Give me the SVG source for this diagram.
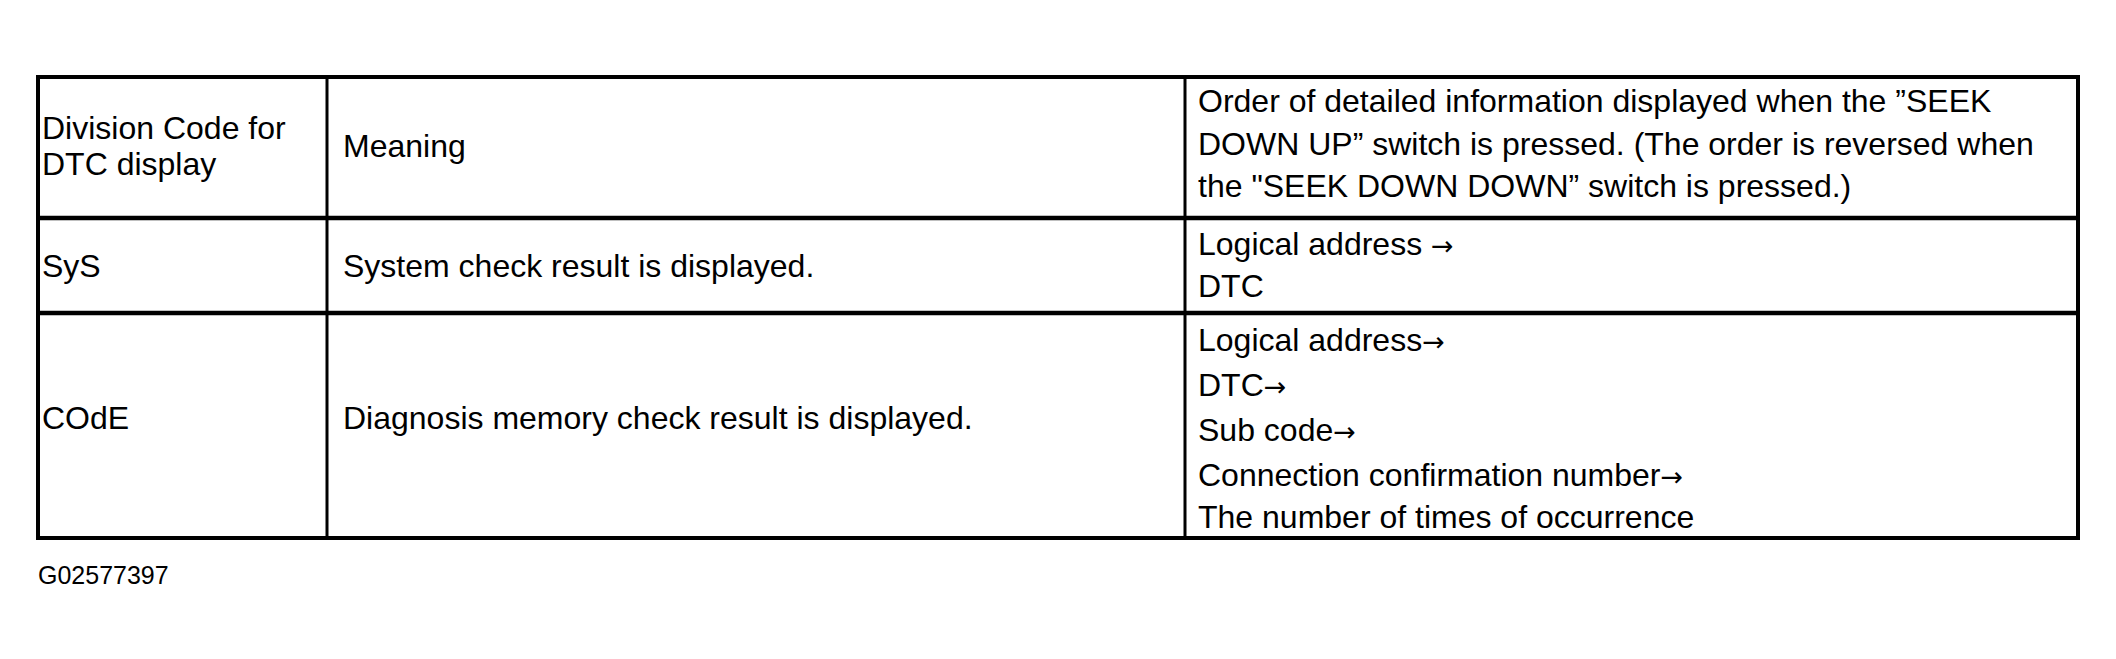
<svg xmlns="http://www.w3.org/2000/svg" width="2116" height="659" viewBox="0 0 2116 659">
<style>
  .t { font-family: "Liberation Sans", Arial, Helvetica, sans-serif; font-size: 32px; fill: #000; }
  .arr { font-family: "DejaVu Sans", sans-serif; font-size: 27px; }
  .fig { font-family: "Liberation Sans", Arial, Helvetica, sans-serif; font-size: 25px; fill: #000; }
  .outer { fill: none; stroke: #000; stroke-width: 4; }
  .hline { stroke: #000; stroke-width: 4.5; }
  .vline { stroke: #000; stroke-width: 3; }
</style>
<rect x="0" y="0" width="2116" height="659" fill="#fff"/>
<g id="grid">
  <rect class="outer" x="38" y="77" width="2040" height="461"/>
  <line class="hline" x1="38" y1="218" x2="2078" y2="218"/>
  <line class="hline" x1="38" y1="313" x2="2078" y2="313"/>
  <line class="vline" x1="327" y1="77" x2="327" y2="538"/>
  <line class="vline" x1="1185" y1="77" x2="1185" y2="538"/>
</g>
<g id="header">
  <g id="h-division">
    <text class="t" x="42" y="139">Division Code for</text>
    <text class="t" x="42" y="175">DTC display</text>
  </g>
  <g id="h-meaning">
    <text class="t" x="343" y="157">Meaning</text>
  </g>
  <g id="h-order">
    <text class="t" x="1198" y="112">Order of detailed information displayed when the ”SEEK</text>
    <text class="t" x="1198" y="155">DOWN UP” switch is pressed. (The order is reversed when</text>
    <text class="t" x="1198" y="197">the "SEEK DOWN DOWN” switch is pressed.)</text>
  </g>
</g>
<g id="row-sys">
  <g id="sys-code"><text class="t" x="42" y="277">SyS</text></g>
  <g id="sys-meaning"><text class="t" x="343" y="277">System check result is displayed.</text></g>
  <g id="sys-order">
    <text class="t" x="1198" y="255">Logical address <tspan class="arr">→</tspan></text>
    <text class="t" x="1198" y="297">DTC</text>
  </g>
</g>
<g id="row-code">
  <g id="code-code"><text class="t" x="42" y="429">COdE</text></g>
  <g id="code-meaning"><text class="t" x="343" y="429">Diagnosis memory check result is displayed.</text></g>
  <g id="code-order">
    <text class="t" x="1198" y="351">Logical address<tspan class="arr">→</tspan></text>
    <text class="t" x="1198" y="396">DTC<tspan class="arr">→</tspan></text>
    <text class="t" x="1198" y="441">Sub code<tspan class="arr">→</tspan></text>
    <text class="t" x="1198" y="486">Connection confirmation number<tspan class="arr">→</tspan></text>
    <text class="t" x="1198" y="528">The number of times of occurrence</text>
  </g>
</g>
<g id="figure-id">
  <text class="fig" x="38" y="584">G02577397</text>
</g>
</svg>
